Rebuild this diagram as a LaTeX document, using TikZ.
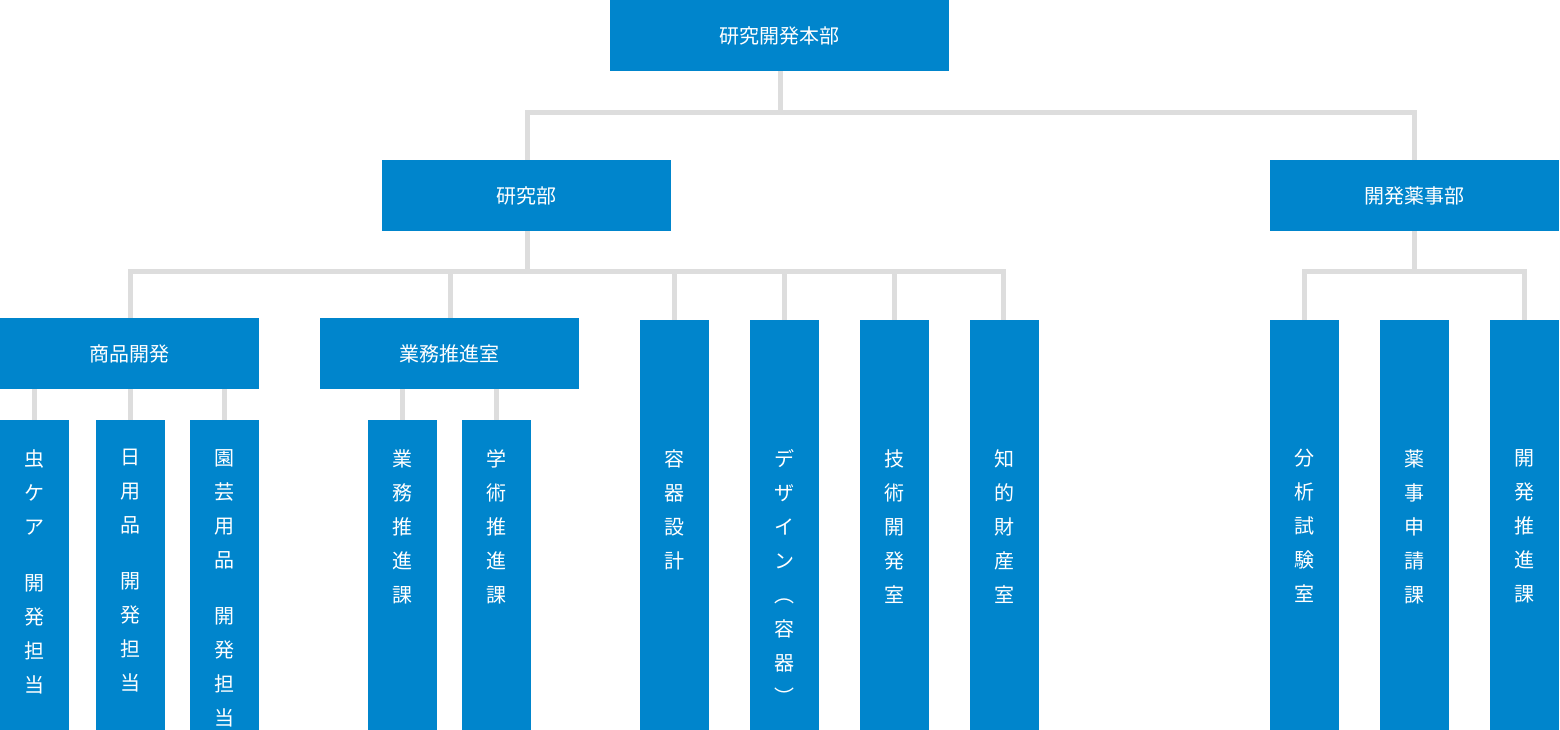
\documentclass[tikz,border=0pt]{standalone}
\usepackage{fontspec}
\newfontfamily\jp{Noto Sans CJK JP}
\definecolor{boxblue}{HTML}{0085CC}
\definecolor{linegray}{HTML}{DDDDDD}
\begin{document}
\begin{tikzpicture}[x=1pt,y=-1pt,
  bx/.style={fill=boxblue,draw=none,text=white,font=\jp\fontsize{20}{20}\selectfont},
  ln/.style={draw=linegray,line width=5pt}]
\useasboundingbox (0,0) rectangle (1560,730);
% connectors
\coordinate (t1) at (780,115);
\draw[ln] (780,71) -- (780,115) (527,160) -- (527,112.5) -- (1414,112.5) -- (1414,160);
\draw[ln] (527,231) -- (527,271) (130,318) -- (130,271) -- (1003,271) -- (1003,320);
\draw[ln] (450,271) -- (450,318) (674,271) -- (674,320) (784,271) -- (784,320) (894,271) -- (894,320);
\draw[ln] (1414,231) -- (1414,271) (1304,320) -- (1304,271) -- (1524,271) -- (1524,320);
\draw[ln] (34,389) -- (34,420) (130,389) -- (130,420) (224,389) -- (224,420);
\draw[ln] (402,389) -- (402,420) (496,389) -- (496,420);
% horizontal boxes
\newcommand\hb[6]{\fill[boxblue] (#2,#3) rectangle (#4,#5);
  \node[bx,fill=none] (#1) at ({(#2+#4)/2},{(#3+#5)/2}) {#6};}
\hb{top}{610}{0}{949}{71}{研究開発本部}
\hb{ken}{382}{160}{671}{231}{研究部}
\hb{kai}{1270}{160}{1559}{231}{開発薬事部}
\hb{sho}{0}{318}{259}{389}{商品開発}
\hb{gyo}{320}{318}{579}{389}{業務推進室}
% vertical boxes
\newcommand\vb[5]{\fill[boxblue] (#2,#3) rectangle ({#2+69},729.9);
  \node[bx,fill=none,anchor=north,align=center,inner sep=0pt,
    font=\jp\fontsize{20}{34}\selectfont] (#1) at ({#2+34.5},#4) {#5};}
\vb{a1}{0}{420}{449}{虫\\ケ\\ア\\[22pt]開\\発\\担\\当}
\vb{a2}{96}{420}{449}{日\\用\\品\\[22pt]開\\発\\担\\当}
\vb{a3}{190}{420}{449}{園\\芸\\用\\品\\[22pt]開\\発\\担\\当}
\vb{b1}{368}{420}{449}{業\\務\\推\\進\\課}
\vb{b2}{462}{420}{449}{学\\術\\推\\進\\課}
\vb{c1}{640}{320}{449}{容\\器\\設\\計}
\vb{c2}{750}{320}{449}{デ\\ザ\\イ\\ン\\︵\\容\\器\\︶}
\vb{c3}{860}{320}{449}{技\\術\\開\\発\\室}
\vb{c4}{970}{320}{449}{知\\的\\財\\産\\室}
\vb{d1}{1270}{320}{449}{分\\析\\試\\験\\室}
\vb{d2}{1380}{320}{449}{薬\\事\\申\\請\\課}
\vb{d3}{1490}{320}{449}{開\\発\\推\\進\\課}
\end{tikzpicture}
\end{document}
